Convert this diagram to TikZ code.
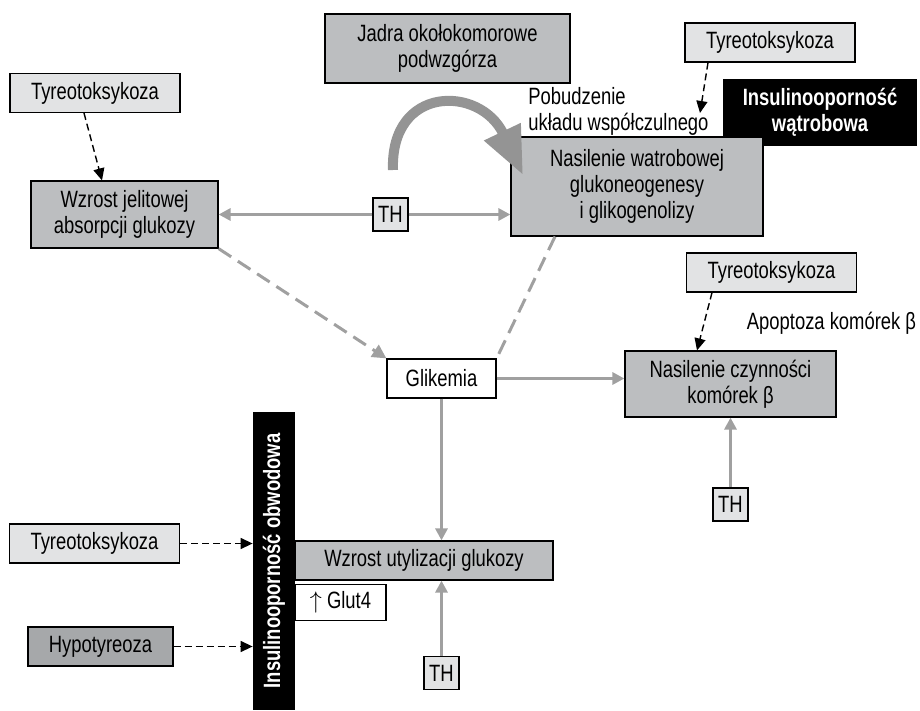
\documentclass[tikz,border=0pt]{standalone}
\usepackage{fontspec}
\setmainfont{Liberation Sans}[FakeStretch=0.78]
\usetikzlibrary{arrows.meta}
\definecolor{boxgray}{HTML}{BCBEC0}
\definecolor{lightgray}{HTML}{E2E3E4}
\definecolor{darkgray}{HTML}{A6A8AA}
\definecolor{arrowgray}{HTML}{A0A0A0}
\definecolor{curvegray}{HTML}{949494}

\begin{document}
\begin{tikzpicture}[x=0.5pt,y=-0.5pt,
    font=\fontsize{11.8}{13}\selectfont,
    box/.style={draw, line width=0.6pt, align=center, inner sep=0pt},
    mainbox/.style={box, fill=boxgray},
    tyrbox/.style={box, fill=lightgray, minimum width=85pt, minimum height=19.5pt},
    thbox/.style={box, fill=lightgray, minimum width=17.5pt, minimum height=16.5pt},
    blackbox/.style={fill=black, text=white, font=\fontsize{11.8}{13}\selectfont\bfseries, align=center, inner sep=0pt},
    grayarrow/.style={draw=arrowgray, line width=1.5pt, -{Triangle[length=6pt,width=6pt]}},
    graydash/.style={draw=arrowgray, line width=1.5pt, dash pattern=on 7.5pt off 4pt},
    blackdash/.style={draw=black, line width=0.7pt, dash pattern=on 3.5pt off 2pt, -{Triangle[length=6pt,width=5.5pt]}}]
  \useasboundingbox (0,0) rectangle (920,711);

  \node[mainbox, minimum width=122.5pt, minimum height=34.5pt] (jadra) at (447.5,48.5) {Jadra okołokomorowe\\podwzgórza};
  \node[tyrbox] (tyrTR) at (770,42.5) {Tyreotoksykoza};
  \node[blackbox, minimum width=97pt, minimum height=33.5pt] (insW) at (820,112.5) {Insulinooporność\\wątrobowa};
  \node[align=left, inner sep=0pt, anchor=west] (pobud) at (528,111) {Pobudzenie\\układu współczulnego};
  \node[mainbox, minimum width=126pt, minimum height=49.5pt] (nasW) at (637,186.5) {Nasilenie watrobowej\\glukoneogenesy\\i glikogenolizy};
  \node[tyrbox] (tyrL) at (95,93) {Tyreotoksykoza};
  \node[mainbox, minimum width=93.5pt, minimum height=33.5pt] (wzJ) at (124.5,214.5) {Wzrost jelitowej\\absorpcji glukozy};
  \node[thbox] (thM) at (390.5,214.5) {TH};
  \node[box, fill=white, minimum width=54.5pt, minimum height=19.5pt] (glik) at (441.5,378.5) {Glikemia};
  \node[tyrbox] (tyrR) at (771.5,272.5) {Tyreotoksykoza};
  \node[inner sep=0pt] (apop) at (831.5,323) {Apoptoza komórek β};
  \node[mainbox, minimum width=105.5pt, minimum height=33pt] (nasC) at (730.5,384) {Nasilenie czynności\\komórek β};
  \node[thbox] (thR) at (730.5,504.5) {TH};
  \node[blackbox, rotate=90, minimum width=149pt, minimum height=21pt] (insO) at (274,561) {Insulinooporność obwodowa};
  \node[tyrbox] (tyrBL) at (94.5,543.5) {Tyreotoksykoza};
  \node[box, fill=darkgray, minimum width=72.5pt, minimum height=19.5pt] (hypo) at (100.5,646.5) {Hypotyreoza};
  \node[mainbox, minimum width=129pt, minimum height=19.5pt] (wzU) at (424,560.5) {Wzrost utylizacji glukozy};
  \node[box, fill=white, minimum width=45.5pt, minimum height=18pt] (glut) at (340.5,602.5) {$\uparrow$ Glut4};
  \node[thbox] (thB) at (441.5,673) {TH};
  \coordinate (pobtip) at (700,113);

  \draw[line width=5pt, draw=curvegray, -{Triangle[length=24pt,width=19pt]}]
    (393,170) .. controls (390,85) and (480,85) .. (523,175);
  \draw[grayarrow] (thM) -- (wzJ);
  \draw[grayarrow] (thM.east) -- (thM.east -| nasW.west);
  \draw[graydash, -{Triangle[length=7pt,width=7pt]}] (wzJ.south east) -- (glik.north west);
  \draw[graydash] ([xshift=-41pt]nasW.south) -- (glik.north east);
  \draw[grayarrow] (glik.east) -- (glik.east -| nasC.west);
  \draw[grayarrow] (glik.south) -- (glik.south |- wzU.north);
  \draw[grayarrow] (thB.north) -- (thB.north |- wzU.south);
  \draw[grayarrow] (thR) -- (nasC);
  \draw[blackdash] ([xshift=-5.5pt]tyrL.south) -- ([xshift=-11.25pt]wzJ.north);
  \draw[blackdash] ([xshift=-31pt]tyrTR.south) -- (pobtip);
  \draw[blackdash] ([xshift=-29.75pt]tyrR.south) -- ([xshift=-16.75pt]nasC.north);
  \draw[blackdash] (tyrBL.east) -- (tyrBL.east -| insO.north);
  \draw[blackdash] (hypo.east) -- (hypo.east -| insO.north);
\end{tikzpicture}
\end{document}
